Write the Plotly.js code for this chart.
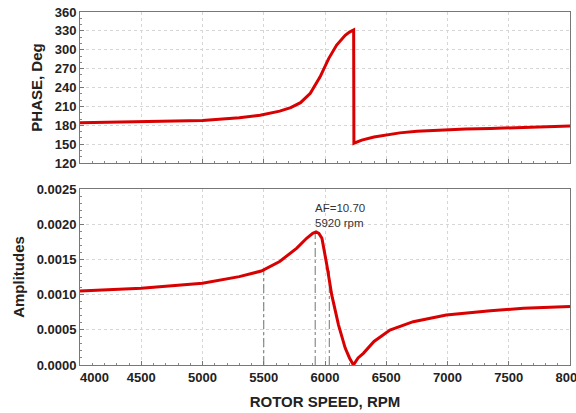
<!DOCTYPE html>
<html><head><meta charset="utf-8">
<script src="https://cdn.plot.ly/plotly-3.0.1.min.js"></script>
<style>body{margin:0;background:#fff}#chart{width:576px;height:413px}</style>
</head><body><div id="chart"></div>
<script>
// Phase (deg) vs rotor speed
const phaseRpm = [4000, 4500, 5000, 5300, 5470, 5630, 5720, 5800, 5880, 5960, 6030, 6095, 6165, 6200, 6234, 6236, 6300, 6400, 6500, 6610, 6750, 6940, 7150, 7350, 7600, 7800, 8000];
const phaseDeg = [184, 185.5, 187.5, 192, 196, 202.5, 208, 216, 231, 257, 286, 307.5, 323, 328, 331.5, 151.5, 156.5, 161.5, 165, 168, 170.5, 172.5, 174, 175, 176.5, 177.5, 179];
// Amplitude vs rotor speed
const ampRpm = [4000, 4500, 5000, 5300, 5480, 5630, 5770, 5850, 5900, 5927, 5950, 5975, 6015, 6055, 6110, 6165, 6200, 6232, 6270, 6313, 6400, 6530, 6720, 6990, 7350, 7620, 8000];
const ampVal = [0.00105, 0.00109, 0.00116, 0.001255, 0.001335, 0.00147, 0.00166, 0.0018, 0.00187, 0.00189, 0.00187, 0.0018, 0.00142, 0.000995, 0.00057, 0.00024, 0.0001, 0.0, 0.0001, 0.000166, 0.000335, 0.000497, 0.000615, 0.00071, 0.000772, 0.000805, 0.00083];
// Half-power / peak markers
const markRpm = [5500, 5920, 6035];
const markAmp = [0.00134, 0.0019, 0.00134];
const phaseTicks = [120, 150, 180, 210, 240, 270, 300, 330, 360];
const ampTicks = [0, 0.0005, 0.001, 0.0015, 0.002, 0.0025];
const ampTickText = ['0.0000', '0.0005', '0.0010', '0.0015', '0.0020', '0.0025'];
const rpmTicks = [4000, 4500, 5000, 5500, 6000, 6500, 7000, 7500, 8000];
const rpmTickText = ['\u00a0\u00a0\u00a0\u00a0\u00a0\u00a0\u00a0\u00a04000', '4500', '5000', '5500', '6000', '6500', '7000', '7500', '8000'];
const peakLabel = 'AF=10.70<br>5920 rpm';

const red = '#d80000';
const traces = [
  {x: phaseRpm, y: phaseDeg, xaxis: 'x', yaxis: 'y', mode: 'lines', line: {color: red, width: 3}, hoverinfo: 'skip'}
];
markRpm.forEach((r, i) => {
  traces.push({x: [r, r], y: [0, markAmp[i]], xaxis: 'x2', yaxis: 'y2', mode: 'lines',
    line: {color: '#6a7a6a', width: 1, dash: 'dashdot'}, hoverinfo: 'skip'});
});
traces.push({x: ampRpm, y: ampVal, xaxis: 'x2', yaxis: 'y2', mode: 'lines', line: {color: red, width: 3}, hoverinfo: 'skip'});

const font = {family: 'Liberation Sans, Arial, sans-serif', color: '#222'};
const tickFont = {family: 'Liberation Sans, Arial, sans-serif', size: 13, color: '#222', weight: 'bold'};
const titleFont = {family: 'Liberation Sans, Arial, sans-serif', size: 15, color: '#222', weight: 'bold'};
const axBase = {
  showline: true, mirror: true, linecolor: '#777', linewidth: 1,
  showgrid: true, gridcolor: '#d6d6d6', griddash: 'dot', gridwidth: 1,
  ticks: 'inside', ticklen: 4, tickcolor: '#777', zeroline: false,
  tickfont: tickFont
};
const layout = {
  width: 576, height: 413,
  margin: {l: 80, r: 6, t: 12, b: 48},
  paper_bgcolor: '#fff', plot_bgcolor: '#fff',
  showlegend: false, font: font,
  xaxis: Object.assign({}, axBase, {domain: [0, 1], anchor: 'y', range: [4000, 8000], tickvals: rpmTicks, showticklabels: false,
    minor: {ticks: 'inside', ticklen: 2, tickcolor: '#888', dtick: 100, showgrid: false}}),
  yaxis: Object.assign({}, axBase, {domain: [0.572, 1], anchor: 'x', range: [120, 360], tickvals: phaseTicks,
    minor: {ticks: 'inside', ticklen: 2, tickcolor: '#888', dtick: 10, showgrid: false},
    title: {text: 'PHASE, Deg', font: titleFont, standoff: 8}}),
  xaxis2: Object.assign({}, axBase, {domain: [0, 1], anchor: 'y2', range: [4000, 8000], tickvals: rpmTicks, ticktext: rpmTickText,
    ticklabeloverflow: 'allow',
    minor: {ticks: 'inside', ticklen: 2, tickcolor: '#888', dtick: 100, showgrid: false},
    title: {text: 'ROTOR SPEED, RPM', font: titleFont, standoff: 12}}),
  yaxis2: Object.assign({}, axBase, {domain: [0, 0.4986], anchor: 'x2', range: [0, 0.0025], tickvals: ampTicks, ticktext: ampTickText,
    minor: {ticks: 'inside', ticklen: 2, tickcolor: '#888', dtick: 0.0001, showgrid: false},
    title: {text: 'Amplitudes', font: titleFont, standoff: 8}}),
  annotations: [{xref: 'x2', yref: 'y2', x: markRpm[1], y: 0.00213, text: peakLabel, showarrow: false,
    xanchor: 'left', yanchor: 'middle', align: 'left', xshift: -2,
    font: {family: 'Liberation Sans, Arial, sans-serif', size: 11.5, color: '#333'}}]
};
Plotly.newPlot('chart', traces, layout, {displayModeBar: false, staticPlot: true});
</script></body></html>
